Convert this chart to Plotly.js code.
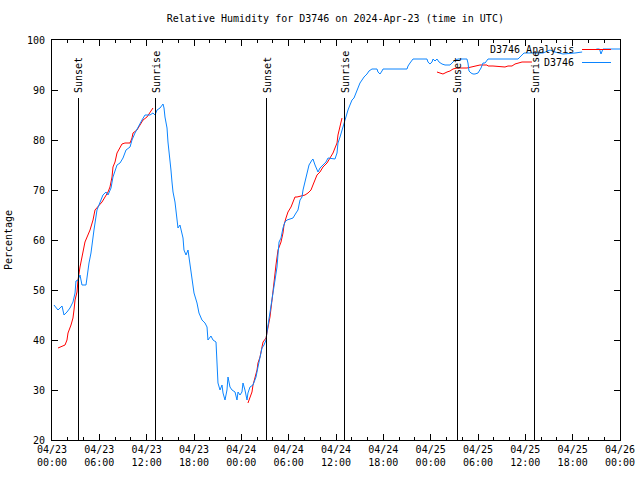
<!DOCTYPE html>
<html>
<head>
<meta charset="utf-8">
<script src="https://cdn.plot.ly/plotly-3.0.1.min.js"></script>
<style>html,body{margin:0;padding:0;background:#fff;}#chart{width:640px;height:480px;}
#chart .shapelayer path{shape-rendering:crispEdges;}
</style>
</head>
<body>
<div id="chart"></div>
<script>
// hours since 2024-04-23 00:00 UTC
const blueHours = [0.25,0.76,1.27,1.52,1.90,2.28,2.66,2.92,3.04,3.30,3.55,3.80,4.31,4.44,4.69,4.94,5.20,5.32,5.70,6.08,6.46,6.85,7.10,7.48,7.73,8.24,8.62,9.00,9.38,9.89,10.14,10.52,10.90,11.41,11.79,12.42,12.80,13.06,13.31,13.69,14.07,14.20,14.32,14.58,14.70,14.96,15.08,15.21,15.34,15.59,15.72,15.84,15.97,16.22,16.48,16.61,16.73,16.99,17.24,17.37,17.49,17.75,18.00,18.38,18.63,19.01,19.39,19.65,19.77,20.15,20.41,20.79,20.92,21.04,21.30,21.55,21.68,21.93,22.18,22.31,22.56,22.82,23.20,23.45,23.58,23.83,24.08,24.21,24.46,24.72,24.84,25.10,25.48,25.86,26.11,26.37,26.62,26.87,27.13,27.25,27.51,27.76,28.01,28.27,28.52,28.65,28.78,29.03,29.28,29.53,29.79,30.17,30.55,30.93,31.18,31.44,31.69,31.82,32.07,32.32,32.58,32.96,33.08,33.34,33.59,33.72,33.97,34.35,34.73,34.99,35.49,35.87,36.13,36.25,36.51,36.76,36.89,37.14,37.39,37.52,37.77,38.03,38.28,38.53,38.79,39.04,39.30,39.55,39.93,40.18,40.56,41.20,41.32,41.58,41.83,41.96,45.00,45.13,45.38,45.63,45.76,47.53,47.66,47.91,48.17,48.30,48.55,48.80,49.06,49.44,49.82,50.45,50.70,50.96,51.46,52.60,52.73,52.86,53.11,53.37,53.62,54.00,54.38,54.63,54.89,55.14,55.27,59.07,59.32,59.58,59.83,62.24,62.49,63.13,63.76,64.77,66.29,67.20,67.60,69.01,69.40,69.59,69.84,72.00];
const blueValues = [47,46,46.8,45,45.6,46.4,47.6,49.4,51.8,52,53,51,51,53,55.4,57.4,60,62,66,67.4,69,69.6,69,70.4,72.6,75,75.4,76.4,78,78.6,80,81.4,82.6,84,85,85,85.4,85,86,86.4,87.2,86.4,84.6,82.4,79.6,76.4,74,71.6,69.6,67.6,65.6,63.6,62.4,63,61.6,60.4,58,57,58,56.4,55,52,49.4,47.4,45.4,44,43.4,42.6,40,40.8,40,39.6,36,31.4,30,31,29.4,28,30,32.6,30.6,30,29.6,28,29.6,29,29.6,31.4,30,28,29.4,30.6,31,32.6,34.6,36.6,38.4,39,40,41.6,44.6,46.6,49.4,52,54.6,57.2,59.6,60.4,62.4,63.6,64,64.2,64.4,65.4,66,68,68.6,70,71.6,73.4,75,76,76.2,75,74,73.6,74.4,75,75.6,76.4,76.2,76.2,77.4,79.4,80.6,82,83,84,85.4,86,87,88,88.4,89.4,90.4,91.4,92,92.6,93.2,93.8,94.2,94.2,93.6,93.2,93.8,94.2,94.2,94.8,95.4,96,96.2,96.2,95.6,95.2,95.6,96.2,95.8,96.2,95.6,95.2,95,95,95.4,95.8,96.2,96.2,95.4,93.8,93.4,93.2,93.2,93.4,94.4,95.4,95.4,96,96.2,96.2,96.6,97.2,97.4,97.4,97.6,98,97.6,97.2,97.4,97.6,null,98.2,98.2,97.2,98.2,98.2];

const redHours = [0.76,1.65,1.90,2.03,2.41,2.66,2.79,2.92,3.17,3.30,3.55,3.80,3.93,4.18,4.82,5.20,5.45,5.83,6.34,6.72,7.10,7.35,7.61,7.73,7.99,8.24,8.62,8.87,9.25,9.89,10.14,10.27,10.77,11.15,11.54,12.04,12.42,12.80,18.0,
  24.84,25.10,25.35,25.48,25.73,25.99,26.11,26.37,26.62,26.75,27.13,27.38,27.63,27.89,28.14,28.39,28.65,29.03,29.28,29.41,29.66,29.91,30.30,30.55,30.80,31.06,31.69,32.07,32.45,32.83,33.08,33.34,33.59,33.97,34.35,34.86,35.24,35.62,35.87,36.13,36.25,36.51,36.76,42.0,
  48.80,49.18,49.56,50.07,50.45,50.83,51.34,52.60,53.24,53.87,54.25,55.14,55.27,55.90,56.79,57.42,57.80,58.31,58.69,59.07,59.58,60.84];
const redValues = [38.4,39,40,41.4,43,44.4,46,48,49.6,52,54.6,56.6,57.6,59.6,62,64,66,66.6,67.6,68.6,69.6,70.6,72.6,74.6,75.6,77.4,78.6,79.2,79.4,79.4,80.4,81.4,82,83,84,84.6,85.4,86.4,null,
  27.4,28.6,29.6,31,32.6,34,35.4,36.6,38.6,39.6,40.4,42.4,44.6,48,52,55,58,59.6,61.4,63,64.4,65.6,66.6,67.6,68.6,68.6,68.8,69,69.4,70,71,72,73,73.6,74.6,75.4,76.4,77.4,78.4,79.4,81,82.6,84.4,null,
  93.6,93.4,93.2,93.6,93.8,94.2,94.4,94.4,94.6,94.8,95,95,94.8,94.8,94.6,94.6,94.8,94.8,95.2,95.4,95.6,95.6];

const sunHours = [3.30,13.18,27.25,37.14,51.34,61.22];
const sunLabels = ['Sunset','Sunrise','Sunset','Sunrise','Sunset','Sunrise'];
const sunLineTop = 88.4;

const tickHours = [0,6,12,18,24,30,36,42,48,54,60,66,72];
const tickLabels = ['04/23<br>00:00','04/23<br>06:00','04/23<br>12:00','04/23<br>18:00','04/24<br>00:00','04/24<br>06:00','04/24<br>12:00','04/24<br>18:00','04/25<br>00:00','04/25<br>06:00','04/25<br>12:00','04/25<br>18:00','04/26<br>00:00'];
const seriesNames = ['D3746 Analysis','D3746'];
const seriesColors = ['#ff0000','#0a84ff'];

const FONT = 'DejaVu Sans Mono, monospace';

const traces = [
  {x: redHours, y: redValues, type:'scatter', mode:'lines', name:seriesNames[0], line:{color:seriesColors[0], width:1}, connectgaps:false, hoverinfo:'skip'},
  {x: blueHours, y: blueValues, type:'scatter', mode:'lines', name:seriesNames[1], line:{color:seriesColors[1], width:1}, connectgaps:false, hoverinfo:'skip'}
];

const shapes = sunHours.map(h => ({type:'line', xref:'x', yref:'y', x0:h, x1:h, y0:20, y1:sunLineTop, line:{color:'#000', width:1}}));
const annotations = sunHours.map((h,i) => ({xref:'x', yref:'y', x:h, y:sunLineTop+0.6, text:sunLabels[i], textangle:-90, showarrow:false, xanchor:'center', yanchor:'bottom', font:{family:FONT, size:10, color:'#000'}}));

// gnuplot-style key: text right-aligned, sample to its right
seriesNames.forEach((n,i) => {
  annotations.push({xref:'paper', yref:'paper', x:0.922, y:0.977 - i*0.0325, text:n, showarrow:false, xanchor:'right', yanchor:'middle', font:{family:FONT, size:10, color:'#000'}});
  shapes.push({type:'line', xref:'paper', yref:'paper', x0:0.933, x1:0.984, y0:0.977 - i*0.0325, y1:0.977 - i*0.0325, line:{color:seriesColors[i], width:1}});
});

const layout = {
  width:640, height:480,
  margin:{l:52, r:20, t:40, b:40},
  paper_bgcolor:'#fff', plot_bgcolor:'#fff',
  showlegend:false,
  font:{family:FONT, size:10, color:'#000'},
  title:{text:'Relative Humidity for D3746 on 2024-Apr-23 (time in UTC)', x:0.524, xanchor:'center', y:0.962, yanchor:'middle', font:{family:FONT, size:10, color:'#000'}},
  xaxis:{range:[0,72], tickmode:'array', tickvals:tickHours, ticktext:tickLabels, ticks:'inside', ticklen:6, tickcolor:'#000', showline:true, linecolor:'#000', linewidth:1, mirror:'ticks', showgrid:false, zeroline:false, tickfont:{family:FONT, size:10},
         minor:{dtick:2, tick0:0, ticks:'inside', ticklen:3, tickcolor:'#000', showgrid:false}},
  yaxis:{range:[20,100], dtick:10, tick0:20, ticks:'inside', ticklen:6, tickcolor:'#000', showline:true, linecolor:'#000', linewidth:1, mirror:'ticks', showgrid:false, zeroline:false, tickfont:{family:FONT, size:10}, ticklabelstandoff:4,
         title:{text:'Percentage', font:{family:FONT, size:10}, standoff:12}},
  shapes:shapes, annotations:annotations
};

Plotly.newPlot('chart', traces, layout, {staticPlot:true, displayModeBar:false});
</script>
</body>
</html>
